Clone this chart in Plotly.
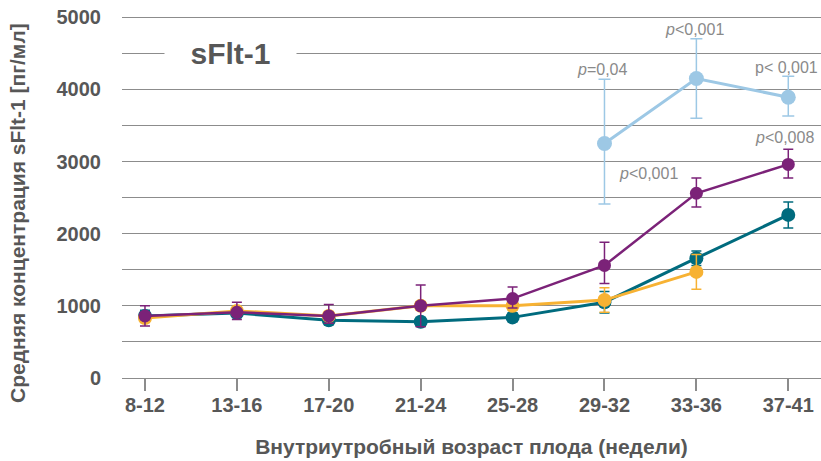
import plotly.graph_objects as go

categories = ["8-12", "13-16", "17-20", "21-24", "25-28", "29-32", "33-36", "37-41"]

teal_vals = [860, 900, 800, 780, 840, 1050, 1660, 2260]
teal_err = [80, 60, 60, 60, 60, 150, 100, 180]

yellow_vals = [830, 930, 860, 1000, 1000, 1080, 1470, None]
yellow_err = [60, 60, 60, 60, 60, 170, 240, None]

purple_vals = [860, 910, 860, 1000, 1100, 1560, 2560, 2960]
purple_err_plus = [140, 140, 160, 290, 160, 320, 210, 210]
purple_err_minus = [140, 100, 100, 290, 130, 250, 190, 190]

blue_cats = ["29-32", "33-36", "37-41"]
blue_vals = [3250, 4150, 3890]
blue_err_plus = [890, 550, 290]
blue_err_minus = [840, 550, 260]

p_cats = ["29-32", "33-36", "37-41", "37-41", "33-36"]
p_y = [4280, 4834, 4307, 3338, 2839]
p_text = ["<i>p</i>=0,04", "<i>p</i><0,001", "p< 0,001", "<i>p</i><0,008", "<i>p</i><0,001"]
p_shift_px = [-2, -2, -2, -4, -48]

y_ticks = [0, 1000, 2000, 3000, 4000, 5000]
y_minor = [500, 1500, 2500, 3500, 4500]

TEAL = "#006b7e"
YELLOW = "#f7b233"
PURPLE = "#7b2278"
BLUE = "#9dc8e5"
GRID = "#8c8c8c"
TXT = "#575757"
FONT = "Liberation Sans, Arial"

W, H = 821, 461
ML, MR, MT, MB = 122, 0, 15, 83
Y_MAX = 5030

fig = go.Figure()

fig.add_trace(go.Scatter(
    x=categories, y=teal_vals, mode="lines+markers",
    line=dict(color=TEAL, width=3), marker=dict(color=TEAL, size=14),
    error_y=dict(type="data", array=teal_err, color=TEAL, thickness=1.5, width=5),
))
fig.add_trace(go.Scatter(
    x=categories, y=yellow_vals, mode="lines+markers",
    line=dict(color=YELLOW, width=3), marker=dict(color=YELLOW, size=14),
    error_y=dict(type="data", array=yellow_err, color=YELLOW, thickness=1.5, width=5),
))
fig.add_trace(go.Scatter(
    x=categories, y=purple_vals, mode="lines+markers",
    line=dict(color=PURPLE, width=2.5), marker=dict(color=PURPLE, size=13),
    error_y=dict(type="data", array=purple_err_plus, arrayminus=purple_err_minus,
                 color=PURPLE, thickness=1.5, width=5),
))
fig.add_trace(go.Scatter(
    x=blue_cats, y=blue_vals, mode="lines+markers",
    line=dict(color=BLUE, width=3), marker=dict(color=BLUE, size=15),
    error_y=dict(type="data", array=blue_err_plus, arrayminus=blue_err_minus,
                 color=BLUE, thickness=1.5, width=6),
))

for cat, yv, txt, sh in zip(p_cats, p_y, p_text, p_shift_px):
    fig.add_annotation(
        x=cat, y=yv, text=txt, showarrow=False, xshift=sh,
        font=dict(family=FONT, size=16, color="#8a8a8a"),
    )

fig.add_annotation(
    xref="paper", yref="y", x=(230 - ML) / (W - ML - MR), y=4500,
    text="<b>sFlt-1</b>", showarrow=False,
    font=dict(family=FONT, size=30, color=TXT),
    bgcolor="white", borderpad=2, xanchor="center",
    width=127,
)

plot_h = H - MT - MB
fig.add_annotation(
    xref="paper", yref="paper", x=0, y=(H - MB - 213) / plot_h,
    xshift=-(ML - 18), text="<b>Средняя концентрация sFlt-1 [пг/мл]</b>",
    textangle=-90, showarrow=False, xanchor="center", yanchor="middle",
    font=dict(family=FONT, size=21, color=TXT),
)

fig.update_layout(
    width=W, height=H,
    margin=dict(l=ML, r=MR, t=MT, b=MB),
    plot_bgcolor="white", paper_bgcolor="white",
    showlegend=False,
    font=dict(family=FONT, color=TXT),
    xaxis=dict(
        type="category", categoryorder="array", categoryarray=categories,
        range=[-0.25, 7.356],
        showgrid=False, showline=False, zeroline=False,
        ticks="outside", ticklen=12, tickwidth=1.5, tickcolor=GRID,
        tickfont=dict(size=20, color=TXT, family=FONT, weight="bold"),
        ticklabelstandoff=-3,
        title=dict(text="<b>Внутриутробный возраст плода (недели)</b>",
                   font=dict(size=21, color=TXT), standoff=24),
    ),
    yaxis=dict(
        range=[0, Y_MAX], tickvals=y_ticks,
        showgrid=True, gridcolor=GRID, gridwidth=1.3,
        zeroline=True, zerolinecolor=GRID, zerolinewidth=1.3,
        showline=False,
        tickfont=dict(size=20, color=TXT, family=FONT, weight="bold"),
        ticklabelstandoff=20, ticklabeloverflow="allow",
        minor=dict(tickvals=y_minor, showgrid=True, gridcolor=GRID, gridwidth=1.3),
    ),
)

fig.write_html("out.html", post_script="document.body.style.margin='0';",
               config={"displayModeBar": False})
